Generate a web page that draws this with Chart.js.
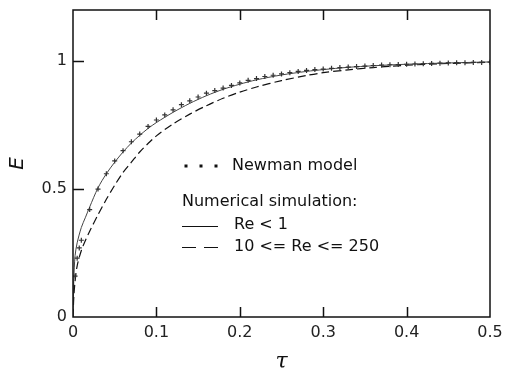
<!DOCTYPE html>
<html>
<head>
    <title>E versus tau: Newman model and numerical simulation</title>
    <script src="https://cdn.jsdelivr.net/npm/chart.js"></script>
    <style>
        body { margin: 0; background: #fff; }
    </style>
</head>
<body>
    <canvas id="chart" width="506" height="368"></canvas>

    <script>
        // tick labels
        const xTicks = [0, 0.1, 0.2, 0.3, 0.4, 0.5];
        const yTicks = [0, 0.5, 1];

        // Newman model (markers)
        const tauNewman = [0.0025, 0.005, 0.0075, 0.01, 0.02, 0.03, 0.04, 0.05, 0.06, 0.07, 0.08, 0.09,
            0.10, 0.11, 0.12, 0.13, 0.14, 0.15, 0.16, 0.17, 0.18, 0.19,
            0.20, 0.21, 0.22, 0.23, 0.24, 0.25, 0.26, 0.27, 0.28, 0.29,
            0.30, 0.31, 0.32, 0.33, 0.34, 0.35, 0.36, 0.37, 0.38, 0.39,
            0.40, 0.41, 0.42, 0.43, 0.44, 0.45, 0.46, 0.47, 0.48, 0.49, 0.50];
        const newman = [0.16, 0.23, 0.27, 0.30, 0.42, 0.50, 0.56, 0.61, 0.65, 0.685, 0.715, 0.745,
            0.77, 0.79, 0.81, 0.83, 0.845, 0.86, 0.875, 0.885, 0.895, 0.905,
            0.915, 0.925, 0.932, 0.94, 0.945, 0.95, 0.955, 0.96, 0.964, 0.967,
            0.969, 0.972, 0.975, 0.977, 0.979, 0.981, 0.983, 0.985, 0.986, 0.987,
            0.988, 0.989, 0.99, 0.991, 0.992, 0.993, 0.994, 0.994, 0.995, 0.995, 0.996];

        // numerical simulation curves
        const tauSim = [0, 0.001, 0.0025, 0.005, 0.01, 0.015, 0.02, 0.03, 0.04, 0.05, 0.06, 0.07, 0.08, 0.09,
            0.10, 0.12, 0.14, 0.16, 0.18, 0.20, 0.22, 0.25, 0.28, 0.30, 0.33, 0.36, 0.40, 0.45, 0.50];
        const reLow = [0, 0.15, 0.24, 0.29, 0.35, 0.39, 0.43, 0.505, 0.56, 0.605, 0.645, 0.68, 0.71, 0.737,
            0.76, 0.80, 0.835, 0.865, 0.89, 0.91, 0.927, 0.946, 0.96, 0.967, 0.976, 0.982, 0.988, 0.993, 0.997];
        const reHigh = [0, 0.08, 0.14, 0.20, 0.26, 0.30, 0.335, 0.40, 0.46, 0.515, 0.565, 0.605, 0.645, 0.678,
            0.708, 0.755, 0.793, 0.826, 0.855, 0.879, 0.899, 0.924, 0.944, 0.955, 0.966, 0.975, 0.984, 0.991, 0.996];

        const FONT = '"DejaVu Sans", sans-serif';

        function pairs(xs, ys) {
            return xs.map((x, i) => ({ x: x, y: ys[i] }));
        }

        // box frame, inward ticks and the hand made legend
        const framePlugin = {
            id: 'frame',
            afterDatasetsDraw(chart) {
                const ctx = chart.ctx;
                const a = chart.chartArea;
                const sx = chart.scales.x;
                const sy = chart.scales.y;
                ctx.save();
                ctx.strokeStyle = '#111';
                ctx.lineWidth = 1.5;
                ctx.strokeRect(a.left, a.top, a.right - a.left, a.bottom - a.top);
                ctx.beginPath();
                xTicks.slice(1, -1).forEach(v => {
                    const px = Math.round(sx.getPixelForValue(v)) + 0.5;
                    ctx.moveTo(px, a.bottom); ctx.lineTo(px, a.bottom - 10);
                    ctx.moveTo(px, a.top); ctx.lineTo(px, a.top + 10);
                });
                yTicks.slice(1).forEach(v => {
                    const py = Math.round(sy.getPixelForValue(v)) + 0.5;
                    ctx.moveTo(a.left, py); ctx.lineTo(a.left + 11, py);
                });
                ctx.stroke();
                ctx.restore();
            },
            afterDraw(chart) {
                const ctx = chart.ctx;
                ctx.save();
                ctx.font = '16px ' + FONT;
                ctx.fillStyle = '#111';
                ctx.textBaseline = 'middle';
                [186, 201, 216].forEach(x => {
                    ctx.fillRect(x - 1.5, 164.5, 3, 3);
                });
                ctx.fillText('Newman model', 232, 166);
                ctx.fillText('Numerical simulation:', 182, 202);
                ctx.fillText('Re < 1', 234, 225);
                ctx.fillText('10 <= Re <= 250', 234, 247);
                ctx.strokeStyle = '#111';
                ctx.lineWidth = 1.2;
                ctx.beginPath();
                ctx.moveTo(182, 226.5); ctx.lineTo(218, 226.5);
                ctx.stroke();
                ctx.setLineDash([14, 8]);
                ctx.beginPath();
                ctx.moveTo(182, 247.5); ctx.lineTo(218, 247.5);
                ctx.stroke();
                ctx.restore();
            }
        };

        new Chart(document.getElementById('chart'), {
            type: 'scatter',
            data: {
                datasets: [{
                    label: 'Newman model',
                    data: pairs(tauNewman, newman),
                    showLine: false,
                    pointStyle: 'cross',
                    pointRadius: 2.5,
                    borderColor: '#333',
                    borderWidth: 1.2
                },
                {
                    label: 'Re < 1',
                    data: pairs(tauSim, reLow),
                    showLine: true,
                    pointRadius: 0,
                    borderColor: '#444',
                    borderWidth: 1,
                    tension: 0.3
                },
                {
                    label: '10 <= Re <= 250',
                    data: pairs(tauSim, reHigh),
                    showLine: true,
                    pointRadius: 0,
                    borderColor: '#111',
                    borderWidth: 1.2,
                    borderDash: [8, 4],
                    tension: 0.3
                }]
            },
            options: {
                responsive: false,
                animation: false,
                devicePixelRatio: 1,
                layout: { padding: { top: 10, right: 16, left: 0, bottom: 0 } },
                plugins: {
                    legend: { display: false },
                    tooltip: { enabled: false }
                },
                scales: {
                    x: {
                        type: 'linear',
                        min: 0,
                        max: 0.5,
                        afterBuildTicks: s => { s.ticks = xTicks.map(v => ({ value: v })); },
                        afterFit: s => { s.height = 51; s.paddingLeft = 0; s.paddingRight = 0; },
                        border: { display: false },
                        grid: { display: false, drawTicks: false },
                        ticks: {
                            padding: 6,
                            color: '#222',
                            font: { family: FONT, size: 16 },
                            callback: v => String(v)
                        },
                        title: {
                            display: true,
                            text: 'τ',
                            color: '#111',
                            padding: 0,
                            font: { family: '"DejaVu Serif", serif', style: 'italic', size: 22, lineHeight: 0.5 }
                        }
                    },
                    y: {
                        type: 'linear',
                        min: 0,
                        max: 1.2,
                        afterBuildTicks: s => { s.ticks = yTicks.map(v => ({ value: v })); },
                        afterFit: s => { s.width = 73; s.paddingTop = 0; s.paddingBottom = 0; },
                        border: { display: false },
                        grid: { display: false, drawTicks: false },
                        ticks: {
                            padding: 6,
                            color: '#222',
                            font: { family: FONT, size: 16 },
                            callback: v => String(v)
                        },
                        title: {
                            display: true,
                            text: 'E',
                            color: '#111',
                            padding: { top: 5.5, bottom: 0 },
                            font: { family: FONT, style: 'italic', size: 20 }
                        }
                    }
                }
            },
            plugins: [framePlugin]
        });
    </script>
</body>
</html>
